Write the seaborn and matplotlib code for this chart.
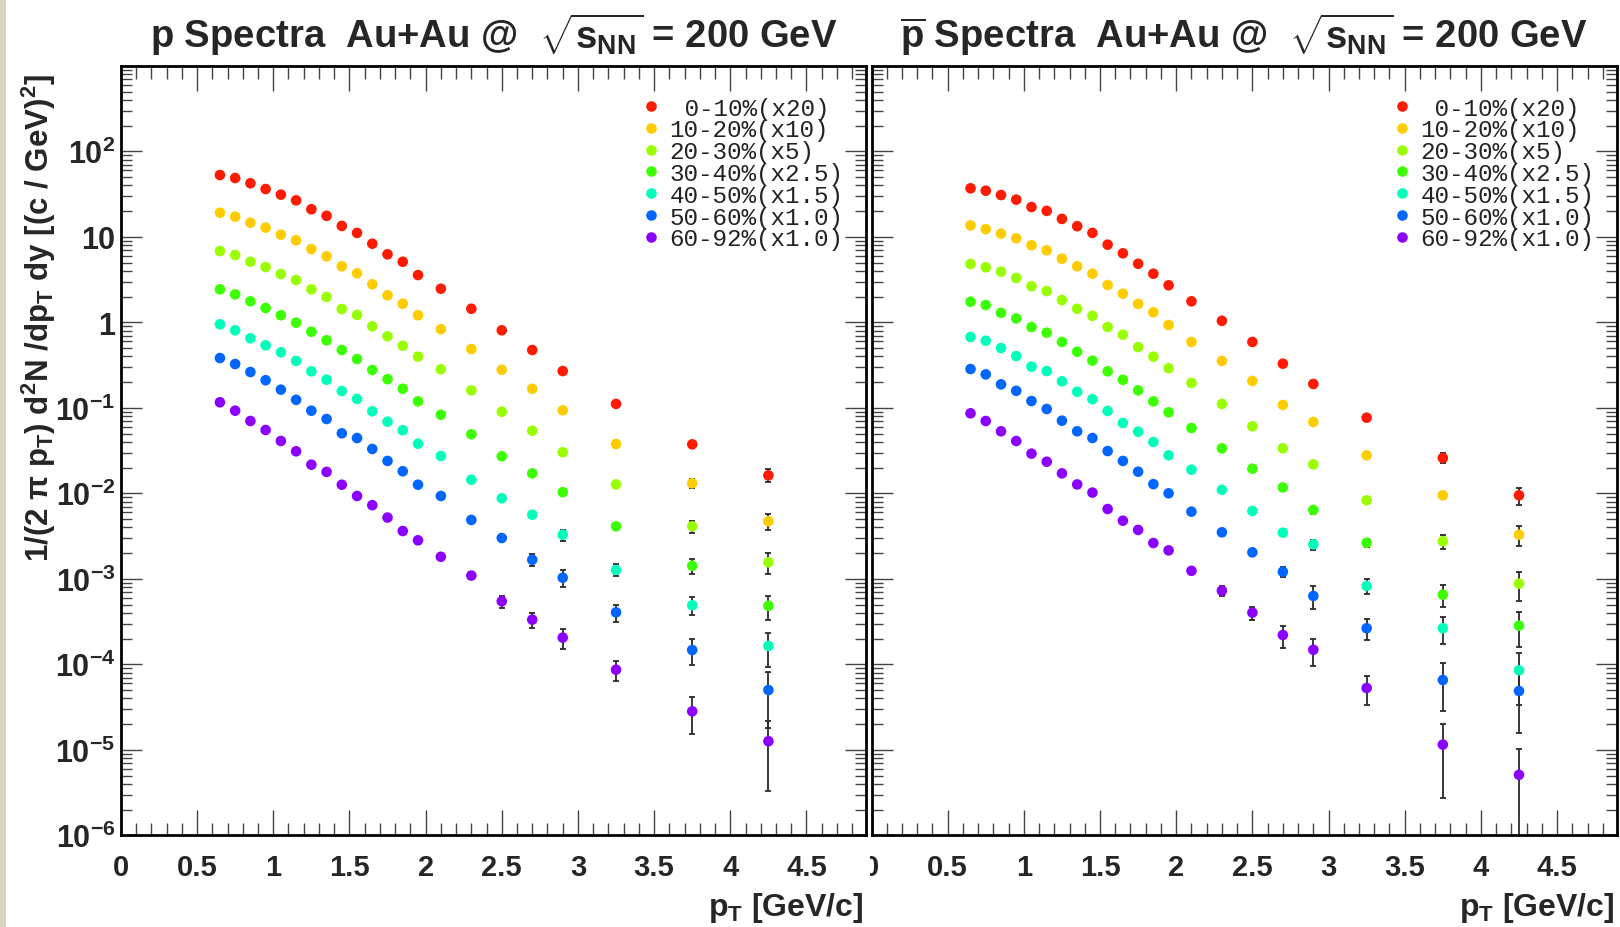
import numpy as np
import pandas as pd
import seaborn as sns
import matplotlib
matplotlib.use("Agg")
import matplotlib.pyplot as plt
from matplotlib.lines import Line2D
from matplotlib.patches import Rectangle
from matplotlib.ticker import FixedLocator, LogLocator, NullFormatter, MultipleLocator
from matplotlib.transforms import Bbox, TransformedBbox
from matplotlib.font_manager import FontProperties

# ---------------- data ----------------
pt = [0.65, 0.75, 0.85, 0.95, 1.05, 1.15, 1.25, 1.35, 1.45, 1.55, 1.65, 1.75, 1.85, 1.95,
      2.1, 2.3, 2.5, 2.7, 2.9, 3.25, 3.75, 4.25]

centralities = [" 0-10%(x20)", "10-20%(x10)", "20-30%(x5)", "30-40%(x2.5)",
                "40-50%(x1.5)", "50-60%(x1.0)", "60-92%(x1.0)"]
colors = ["#FF1A00", "#FFCC00", "#99FF00", "#3CFF00", "#00FFBB", "#0066FF", "#8C00FF"]

# proton spectra (scaled)
p_0_10 = [52.8, 48.7, 42.3, 36.2, 31.1, 26.7, 21.0, 17.6, 13.4, 11.1, 8.3, 6.24, 5.11, 3.57,
          2.47, 1.44, 0.806, 0.474, 0.269, 0.111, 0.0374, 0.0162]
p_10_20 = [19.1, 17.2, 14.6, 12.8, 10.6, 9.10, 7.20, 5.91, 4.52, 3.74, 2.78, 2.07, 1.65, 1.21,
           0.83, 0.487, 0.279, 0.167, 0.0935, 0.0377, 0.0131, 0.00471]
p_20_30 = [6.82, 6.12, 5.11, 4.43, 3.67, 3.12, 2.43, 1.98, 1.43, 1.22, 0.898, 0.686, 0.532, 0.396,
           0.282, 0.160, 0.090, 0.054, 0.0302, 0.0127, 0.00411, 0.00156]
p_30_40 = [2.43, 2.12, 1.76, 1.47, 1.21, 0.99, 0.776, 0.616, 0.474, 0.372, 0.277, 0.216, 0.167, 0.119,
           0.083, 0.049, 0.0271, 0.0171, 0.0103, 0.00411, 0.00142, 0.000484]
p_40_50 = [0.948, 0.806, 0.650, 0.538, 0.446, 0.353, 0.267, 0.213, 0.157, 0.127, 0.091, 0.0688, 0.0546, 0.0380,
           0.0273, 0.0144, 0.00874, 0.00562, 0.00328, 0.00127, 0.00049, 0.000164]
p_50_60 = [0.382, 0.325, 0.262, 0.210, 0.163, 0.124, 0.0925, 0.074, 0.0503, 0.0443, 0.0330, 0.0239, 0.0181, 0.0126,
           0.0093, 0.00488, 0.0030, 0.00167, 0.00103, 0.000405, 0.000147, 5.0e-5]
p_60_92 = [0.116, 0.0925, 0.0701, 0.0550, 0.0409, 0.0310, 0.0216, 0.0178, 0.0126, 0.0093, 0.00726, 0.0052, 0.00362, 0.00282,
           0.00181, 0.00109, 0.000546, 0.000333, 0.000205, 8.65e-5, 2.82e-5, 1.26e-5]

p_err_0_10 = [0, 0, 0, 0, 0, 0, 0, 0, 0, 0, 0, 0, 0, 0, 0, 0, 0, 0, 0, 0.004, 0.0015, 0.0028]
p_err_10_20 = [0, 0, 0, 0, 0, 0, 0, 0, 0, 0, 0, 0, 0, 0, 0, 0, 0, 0, 0.002, 0.0012, 0.0015, 0.001]
p_err_20_30 = [0, 0, 0, 0, 0, 0, 0, 0, 0, 0, 0, 0, 0, 0, 0, 0, 0, 0, 0.001, 0.0008, 0.00066, 0.00042]
p_err_30_40 = [0, 0, 0, 0, 0, 0, 0, 0, 0, 0, 0, 0, 0, 0, 0, 0, 0, 0.0006, 0.0006, 0.0003, 0.00028, 0.00015]
p_err_40_50 = [0, 0, 0, 0, 0, 0, 0, 0, 0, 0, 0, 0, 0, 0, 0, 0, 0.0004, 0.00035, 0.00048, 0.0002, 0.000115, 7e-5]
p_err_50_60 = [0, 0, 0, 0, 0, 0, 0, 0, 0, 0, 0, 0, 0, 0, 0, 0.0003, 0.0002, 0.00027, 0.00023, 9e-5, 5e-5, 3.2e-5]
p_err_60_92 = [0, 0, 0, 0, 0, 0, 0, 0, 0, 0, 0, 0, 0.0003, 0.0003, 0.0001, 0.0001, 9e-5, 7e-5, 5.5e-5, 2.2e-5, 1.3e-5, 0.93e-5]

# antiproton spectra (scaled)
pbar_0_10 = [36.9, 34.6, 30.8, 27.2, 22.3, 20.1, 16.2, 13.3, 11.1, 8.09, 6.41, 4.84, 3.70, 2.71,
             1.76, 1.04, 0.589, 0.328, 0.190, 0.0766, 0.0259, 0.00948]
pbar_10_20 = [13.6, 12.3, 10.9, 9.60, 7.95, 6.95, 5.55, 4.52, 3.70, 2.73, 2.16, 1.64, 1.31, 0.93,
              0.589, 0.353, 0.206, 0.108, 0.0682, 0.0278, 0.00948, 0.00328]
pbar_20_30 = [4.81, 4.40, 3.91, 3.30, 2.64, 2.32, 1.82, 1.44, 1.19, 0.881, 0.716, 0.514, 0.396, 0.290,
              0.195, 0.111, 0.0608, 0.0336, 0.0218, 0.00828, 0.00275, 0.000877]
pbar_30_40 = [1.74, 1.59, 1.29, 1.11, 0.881, 0.756, 0.589, 0.453, 0.356, 0.267, 0.213, 0.160, 0.119, 0.0886,
              0.0580, 0.0336, 0.0194, 0.0117, 0.00638, 0.00264, 0.000652, 0.000283]
pbar_40_50 = [0.673, 0.609, 0.500, 0.403, 0.303, 0.269, 0.204, 0.154, 0.126, 0.0918, 0.0664, 0.0525, 0.0398, 0.0278,
              0.0189, 0.0110, 0.00621, 0.00346, 0.00253, 0.000824, 0.000264, 8.5e-5]
pbar_50_60 = [0.284, 0.246, 0.188, 0.158, 0.120, 0.0968, 0.0707, 0.0531, 0.0443, 0.0312, 0.0239, 0.0179, 0.0128, 0.0100,
              0.0061, 0.0035, 0.00204, 0.00121, 0.00063, 0.000264, 6.55e-5, 4.87e-5]
pbar_60_92 = [0.0862, 0.0701, 0.0531, 0.0409, 0.0291, 0.0234, 0.0171, 0.0127, 0.0102, 0.00655, 0.00478, 0.00373, 0.00262, 0.00215,
              0.00124, 0.000726, 0.000402, 0.00022, 0.000148, 5.28e-5, 1.15e-5, 5.1e-6]

pbar_err_0_10 = [0, 0, 0, 0, 0, 0, 0, 0, 0, 0, 0, 0, 0, 0, 0, 0, 0, 0, 0, 0.003, 0.0035, 0.0022]
pbar_err_10_20 = [0, 0, 0, 0, 0, 0, 0, 0, 0, 0, 0, 0, 0, 0, 0, 0, 0, 0, 0, 0.0015, 0.001, 0.00085]
pbar_err_20_30 = [0, 0, 0, 0, 0, 0, 0, 0, 0, 0, 0, 0, 0, 0, 0, 0, 0, 0, 0.0008, 0.0005, 0.00053, 0.00032]
pbar_err_30_40 = [0, 0, 0, 0, 0, 0, 0, 0, 0, 0, 0, 0, 0, 0, 0, 0, 0, 0, 0.00062, 0.0003, 0.000185, 0.000125]
pbar_err_40_50 = [0, 0, 0, 0, 0, 0, 0, 0, 0, 0, 0, 0, 0, 0, 0, 0, 0, 0.0003, 0.00033, 0.00016, 9e-5, 5.2e-5]
pbar_err_50_60 = [0, 0, 0, 0, 0, 0, 0, 0, 0, 0, 0, 0, 0, 0.0006, 0.0004, 0.0003, 0.0002, 0.00016, 0.00019, 7.4e-5, 3.7e-5, 3.3e-5]
pbar_err_60_92 = [0, 0, 0, 0, 0, 0, 0, 0, 0, 0, 0, 0, 0, 0, 0.0001, 0.0001, 7e-5, 6.4e-5, 5.2e-5, 1.95e-5, 8.8e-6, 5e-6]

x_ticks = [0, 0.5, 1, 1.5, 2, 2.5, 3, 3.5, 4, 4.5]
x_tick_labels = ["0", "0.5", "1", "1.5", "2", "2.5", "3", "3.5", "4", "4.5"]
y_ticks = [1e-6, 1e-5, 1e-4, 1e-3, 1e-2, 1e-1, 1, 10, 100]
y_tick_labels = [r"$10^{-6}$", r"$10^{-5}$", r"$10^{-4}$", r"$10^{-3}$", r"$10^{-2}$",
                 r"$10^{-1}$", "1", "10", r"$10^{2}$"]

titles = [r"p Spectra  Au+Au @  $\sqrt{s_{NN}}$ = 200 GeV",
          r"$\overline{\mathrm{p}}$ Spectra  Au+Au @  $\sqrt{s_{NN}}$ = 200 GeV"]
x_label = r"p$_{T}$ [GeV/c]"
y_label = r"1/(2 $\pi$ p$_{T}$) d$^{2}$N /dp$_{T}$ dy [(c / GeV)$^{2}$]"

panels = [
    ([p_0_10, p_10_20, p_20_30, p_30_40, p_40_50, p_50_60, p_60_92],
     [p_err_0_10, p_err_10_20, p_err_20_30, p_err_30_40, p_err_40_50, p_err_50_60, p_err_60_92]),
    ([pbar_0_10, pbar_10_20, pbar_20_30, pbar_30_40, pbar_40_50, pbar_50_60, pbar_60_92],
     [pbar_err_0_10, pbar_err_10_20, pbar_err_20_30, pbar_err_30_40, pbar_err_40_50, pbar_err_50_60, pbar_err_60_92]),
]

# ---------------- style ----------------
sns.set_style("ticks")
plt.rcParams["font.family"] = ["Liberation Sans", "DejaVu Sans"]
plt.rcParams["font.weight"] = "bold"
plt.rcParams["mathtext.fontset"] = "custom"
plt.rcParams["mathtext.rm"] = "Liberation Sans:bold"
plt.rcParams["mathtext.bf"] = "Liberation Sans:bold"
plt.rcParams["mathtext.sf"] = "Liberation Sans:bold"
plt.rcParams["mathtext.it"] = "Liberation Sans:bold:italic"
plt.rcParams["mathtext.default"] = "rm"

W, H = 1620, 928
fig = plt.figure(figsize=(W / 100, H / 100), dpi=100)
fig.patch.set_facecolor("white")
fig.add_artist(Rectangle((0, 0), 6 / W, 1, transform=fig.transFigure,
                         facecolor="#DCD2BF", edgecolor="none", zorder=0))

ax_bottom = 1 - 836.3 / H
ax_top = 1 - 66.8 / H
ax_h = ax_top - ax_bottom
ax_w = 745.0 / W
lefts = [120.9 / W, 871.5 / W]

legend_font = FontProperties(family="Liberation Mono", weight="normal", size=17.5)

axes = []
for i, (series, errs) in enumerate(panels):
    ax = fig.add_axes([lefts[i], ax_bottom, ax_w, ax_h])
    axes.append(ax)
    rows = []
    for lab, vals in zip(centralities, series):
        for x, v in zip(pt, vals):
            rows.append({"pt": x, "y": v, "cent": lab})
    df = pd.DataFrame(rows)
    ax.set_yscale("log")
    for vals, e in zip(series, errs):
        x_arr = np.array(pt)
        v_arr = np.array(vals)
        e_arr = np.array(e)
        m = e_arr > 0
        ax.errorbar(x_arr[m], v_arr[m], yerr=e_arr[m], fmt="none", ecolor="#2a2a2a",
                    elinewidth=1.3, capsize=2.2, capthick=1.3, zorder=2)
    sns.scatterplot(data=df, x="pt", y="y", hue="cent", hue_order=centralities,
                    palette=colors, s=58, linewidth=0, edgecolor="none",
                    ax=ax, legend=False, zorder=3)
    ax.set_xlim(0, 4.89)
    ax.set_ylim(1e-6, 1e3)
    ax.set_xlabel("")
    ax.set_ylabel("")

    ax.xaxis.set_major_locator(FixedLocator(x_ticks))
    ax.set_xticklabels(x_tick_labels)
    ax.xaxis.set_minor_locator(MultipleLocator(0.1))
    ax.yaxis.set_major_locator(FixedLocator(y_ticks + [1e3]))
    ax.yaxis.set_minor_locator(LogLocator(base=10, subs=np.arange(2, 10), numticks=20))
    ax.yaxis.set_minor_formatter(NullFormatter())
    if i == 0:
        ax.set_yticklabels(y_tick_labels + [""])
    else:
        ax.set_yticklabels([""] * (len(y_ticks) + 1))

    ax.tick_params(axis="x", which="major", direction="in", length=18, width=1.0,
                   color="#444444", top=True, bottom=True, labelsize=21, pad=13)
    ax.tick_params(axis="x", which="minor", direction="in", length=9, width=1.0,
                   color="#444444", top=True, bottom=True)
    ax.tick_params(axis="y", which="major", direction="in", length=15, width=1.0,
                   color="#444444", left=True, right=True, labelsize=22, pad=4)
    ax.tick_params(axis="y", which="minor", direction="in", length=8, width=1.0,
                   color="#444444", left=True, right=True)
    for lbl in ax.get_xticklabels() + ax.get_yticklabels():
        lbl.set_fontweight("bold")
    for sp in ax.spines.values():
        sp.set_linewidth(2.0)
        sp.set_color("black")
        sp.set_visible(True)

    handles = [Line2D([], [], marker="o", ls="none", color=c, markersize=7.6, markeredgewidth=0)
               for c in colors]
    leg = ax.legend(handles, centralities, loc="upper left", bbox_to_anchor=(0.704, 0.960),
                    frameon=False, prop=legend_font, handlelength=0.5, handletextpad=0.5,
                    labelspacing=-0.05, borderpad=0, borderaxespad=0)
    for t in leg.get_texts():
        t.set_color("#222222")

    cx = lefts[i] + ax_w / 2
    fig.text(cx, 1 - 47.5 / H, titles[i], ha="center", va="baseline",
             fontsize=27.5, fontweight="bold")
    fig.text(lefts[i] + ax_w - 2 / W, 1 - 916 / H, x_label, ha="right", va="baseline",
             fontsize=23, fontweight="bold")

fig.text(39 / W, 1 - 318 / H, y_label, rotation=90, ha="center", va="center",
         fontsize=22.5, fontweight="bold")

# the right panel's "0" label is clipped by the pad edge
clip = TransformedBbox(Bbox.from_extents(870 / W, 0, 1, 1), fig.transFigure)
for t in axes[1].xaxis.get_major_ticks()[:1]:
    t.label1.set_clip_on(True)
    t.label1.set_clip_box(clip)

fig.savefig("out.png", dpi=100, facecolor="white")
